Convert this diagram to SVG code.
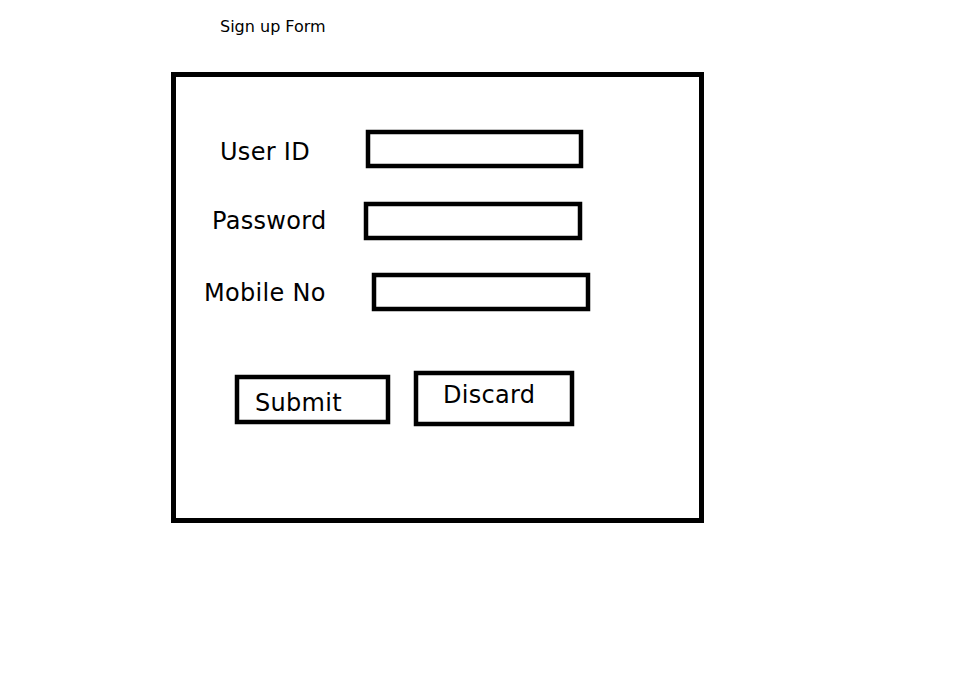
<svg xmlns="http://www.w3.org/2000/svg" width="956" height="676" viewBox="0 0 956 676">
<style>
.box{fill:none;stroke:#000;stroke-width:4.5}
.lbl{font-family:"DejaVu Sans",Verdana,sans-serif;font-size:24px;fill:#000;letter-spacing:0.3px}
.title{font-family:"DejaVu Sans",Verdana,sans-serif;font-size:16px;fill:#000}
</style>
<rect width="956" height="676" fill="#fff"/>
<g id="title"><text class="title" x="220" y="32">Sign up Form</text></g>
<g id="form"><rect x="173.5" y="74.5" width="528" height="446" fill="none" stroke="#000" stroke-width="5"/></g>
<g id="userid">
<text class="lbl" x="220" y="160">User ID</text>
<rect class="box" x="368" y="132" width="213" height="34"/>
</g>
<g id="password">
<text class="lbl" x="212" y="229">Password</text>
<rect class="box" x="366" y="204" width="214" height="34"/>
</g>
<g id="mobile">
<text class="lbl" x="204" y="301">Mobile No</text>
<rect class="box" x="374" y="275" width="214" height="34"/>
</g>
<g id="submit">
<rect class="box" x="237" y="377" width="151" height="45"/>
<text class="lbl" x="255" y="411">Submit</text>
</g>
<g id="discard">
<rect class="box" x="416" y="373" width="156" height="51"/>
<text class="lbl" x="443" y="403">Discard</text>
</g>
<g id="connectors"/>
</svg>
